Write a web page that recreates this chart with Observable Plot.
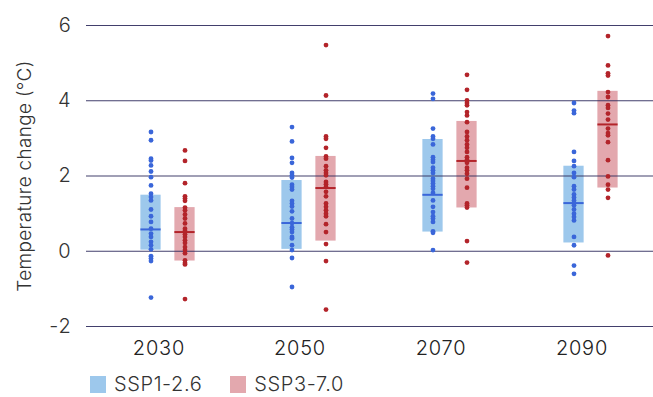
<!DOCTYPE html>
<html>
<head>
<meta charset="utf-8">
<script src="https://cdn.jsdelivr.net/npm/d3@7"></script>
<script src="https://cdn.jsdelivr.net/npm/@observablehq/plot@0.6"></script>
<style>
  body { margin: 0; background: #fff; font-family: Inter, "Noto Sans", sans-serif; overflow: hidden; }
  #wrap { position: relative; width: 653px; height: 397px; }
  #legend { position: absolute; left: 90px; top: 374px; height: 20px; line-height: 20px; display: flex; align-items: center; font-size: 20px; font-weight: 300; letter-spacing: 0.6px; color: #333; }
  .sw { width: 16px; height: 17px; display: inline-block; margin-right: 8px; }
  .item { display: flex; align-items: center; margin-right: 28px; }
  svg text { font-weight: 300; }
</style>
</head>
<body>
<div id="wrap"><div id="chart"></div><div id="legend"></div></div>
<script>
const years = ["2030", "2050", "2070", "2090"];
const scenarios = ["SSP1-2.6", "SSP3-7.0"];
const yTicks = [-2, 0, 2, 4, 6];

// individual model values per year
const ssp126Points = [
  [3.17, 2.95, 2.46, 2.41, 2.28, 2.12, 1.97, 1.75, 1.53, 1.44, 1.35, 1.11, 0.93, 0.78, 0.60, 0.47, 0.38, 0.25, 0.16, 0.05, -0.13, -0.19, -0.26, -1.23],
  [3.30, 2.92, 2.48, 2.35, 2.08, 2.02, 1.96, 1.77, 1.71, 1.64, 1.34, 1.27, 1.19, 1.06, 0.87, 0.75, 0.64, 0.58, 0.51, 0.38, 0.34, 0.16, 0.03, -0.18, -0.95],
  [4.19, 4.05, 3.26, 3.05, 2.99, 2.84, 2.50, 2.43, 2.37, 2.22, 2.15, 2.08, 1.93, 1.87, 1.80, 1.73, 1.66, 1.55, 1.35, 1.18, 1.04, 0.93, 0.87, 0.78, 0.53, 0.49, 0.03],
  [3.94, 3.74, 3.67, 2.64, 2.40, 2.26, 2.08, 1.97, 1.73, 1.64, 1.51, 1.43, 1.35, 1.28, 1.22, 1.11, 1.00, 0.91, 0.82, 0.38, 0.16, -0.38, -0.60]
];
const ssp370Points = [
  [2.68, 2.40, 1.81, 1.46, 1.40, 1.34, 1.16, 1.09, 0.98, 0.87, 0.74, 0.60, 0.54, 0.45, 0.38, 0.29, 0.22, 0.11, 0.03, -0.05, -0.24, -0.31, -0.35, -1.27],
  [5.48, 4.14, 3.05, 2.99, 2.75, 2.52, 2.46, 2.26, 2.15, 2.08, 2.02, 1.84, 1.78, 1.71, 1.58, 1.46, 1.27, 1.18, 1.09, 1.00, 0.93, 0.72, 0.51, 0.19, -0.26, -1.55],
  [4.69, 4.29, 4.01, 3.94, 3.88, 3.70, 3.61, 3.43, 3.17, 3.05, 2.95, 2.84, 2.75, 2.64, 2.50, 2.43, 2.35, 2.22, 2.15, 2.06, 1.93, 1.69, 1.27, 1.22, 1.16, 0.27, -0.30],
  [5.72, 4.94, 4.73, 4.67, 4.23, 4.10, 3.88, 3.81, 3.66, 3.50, 3.26, 3.14, 3.08, 2.90, 2.42, 1.99, 1.77, 1.64, 1.42, -0.11]
];
// likely range (box) and median per year
const ssp126Low = [0.03, 0.05, 0.51, 0.22];
const ssp126High = [1.49, 1.88, 2.97, 2.26];
const ssp126Median = [0.58, 0.75, 1.50, 1.28];
const ssp370Low = [-0.26, 0.27, 1.15, 1.68];
const ssp370High = [1.16, 2.52, 3.45, 4.25];
const ssp370Median = [0.51, 1.68, 2.40, 3.37];

const colors = {
  "SSP1-2.6": { box: "#9dc8ec", dot: "#3a66d9" },
  "SSP3-7.0": { box: "#e3a8ae", dot: "#b3242a" }
};

const boxes = (lo, hi, med) => years.map((y, i) => ({ year: y, lo: lo[i], hi: hi[i], med: med[i] }));
const dots = (pts) => years.flatMap((y, i) => pts[i].map(v => ({ year: y, v })));

const b126 = boxes(ssp126Low, ssp126High, ssp126Median);
const b370 = boxes(ssp370Low, ssp370High, ssp370Median);
const d126 = dots(ssp126Points);
const d370 = dots(ssp370Points);

// layout within each band (band width 141.75)
const bw = 567 / 4;
const half = 10.5;
const offA = -8, offB = 26;
const insA = { insetLeft: bw / 2 + offA - half, insetRight: bw / 2 - offA - half };
const insB = { insetLeft: bw / 2 + offB - half, insetRight: bw / 2 - offB - half };

const grid = "#2d2a5c";

const chart = Plot.plot({
  width: 653,
  height: 362,
  marginLeft: 86,
  marginRight: 0,
  marginTop: 25,
  marginBottom: 36,
  style: { fontFamily: "Inter, 'Noto Sans', sans-serif", color: "#333", background: "#fff", fontVariant: "normal" },
  x: { type: "band", domain: years, padding: 0, label: null },
  y: { domain: [-2, 6], ticks: yTicks, label: null },
  marks: [
    Plot.barY(b126, { x: "year", y1: "lo", y2: "hi", fill: colors["SSP1-2.6"].box, ...insA }),
    Plot.barY(b370, { x: "year", y1: "lo", y2: "hi", fill: colors["SSP3-7.0"].box, ...insB }),
    Plot.ruleY(yTicks, { stroke: grid, strokeWidth: 1.2, strokeOpacity: 0.9 }),
    Plot.tickY(b126, { x: "year", y: "med", stroke: colors["SSP1-2.6"].dot, strokeWidth: 2, ...insA }),
    Plot.tickY(b370, { x: "year", y: "med", stroke: colors["SSP3-7.0"].dot, strokeWidth: 2, ...insB }),
    Plot.dot(d126, { x: "year", y: "v", dx: offA, r: 2.4, fill: colors["SSP1-2.6"].dot, stroke: "none" }),
    Plot.dot(d370, { x: "year", y: "v", dx: offB, r: 2.4, fill: colors["SSP3-7.0"].dot, stroke: "none" }),
    Plot.axisX({ tickSize: 0, tickPadding: 14, fontSize: 20, fill: "#222" }),
    Plot.axisY({ ticks: yTicks, tickSize: 0, tickPadding: 15, fontSize: 20, fill: "#333", tickFormat: d => String(d),
      label: "Temperature change (°C)", labelAnchor: "center", labelArrow: "none", labelOffset: 69 })
  ]
});
document.getElementById("chart").appendChild(chart);
chart.querySelectorAll("text").forEach(t => { t.style.fontVariantNumeric = "normal"; t.style.letterSpacing = "0.8px"; });
chart.querySelectorAll("g[aria-label='y-axis label'] text").forEach(t => { t.setAttribute("font-size", "19"); t.style.fontSize = "19px"; t.style.letterSpacing = "0.3px"; });

const legend = document.getElementById("legend");
scenarios.forEach(s => {
  const it = document.createElement("div");
  it.className = "item";
  it.innerHTML = `<span class="sw" style="background:${colors[s].box}"></span><span>${s}</span>`;
  legend.appendChild(it);
});
</script>
</body>
</html>
